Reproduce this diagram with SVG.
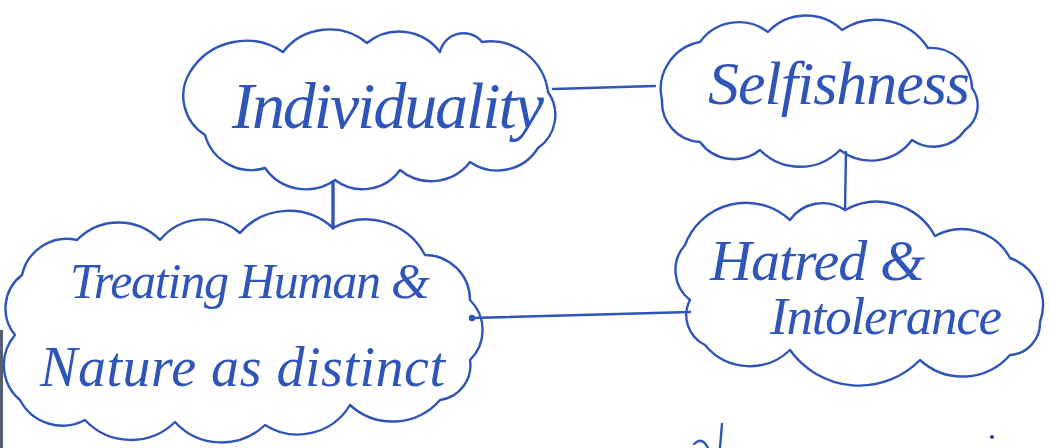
<svg xmlns="http://www.w3.org/2000/svg" width="1050" height="448" viewBox="0 0 1050 448">
  <style>
    .cloud { fill: none; stroke: #2f55b8; stroke-width: 2.4; stroke-linejoin: round; stroke-linecap: round; }
    .link { fill: none; stroke: #2f55b8; stroke-width: 2.4; stroke-linecap: round; }
    .label { fill: #2f55b8; font-family: "Liberation Serif", "DejaVu Serif", serif; font-style: italic; }
  </style>
  <rect width="1050" height="448" fill="#ffffff"/>
  <rect x="0" y="330" width="3" height="118" fill="#55606e"/>

  <g id="connectors">
    <path class="link" d="M553,89 L655,86"/>
    <path class="link" d="M846,152 L845,210"/>
    <path class="link" d="M333,182 L333,228" style="stroke-width:3.4"/>
    <path class="link" d="M472,318 L690,312"/>
    <circle cx="472" cy="318" r="3.2" fill="#2f55b8"/>
  </g>

  <g id="individuality">
    <path class="cloud" d="M190,72 A66,66 0 0 1 283,52 A59,59 0 0 1 367,43 A51,51 0 0 1 440,52 A24,24 0 0 1 482,42 A58,58 0 0 1 548,92 A40,40 0 0 1 538,148 A48,48 0 0 1 470,162 A49,49 0 0 1 400,170 A46,46 0 0 1 335,180 A50,50 0 0 1 265,168 A48,48 0 0 1 205,135 A46,46 0 0 1 190,72 Z"/>
    <text class="label" x="232" y="128" font-size="66" textLength="312">Individuality</text>
  </g>

  <g id="selfishness">
    <path class="cloud" d="M662,100 A48,48 0 0 1 700,42 A48,48 0 0 1 768,32 A52,52 0 0 1 842,30 A62,62 0 0 1 928,48 A41,41 0 0 1 972,88 A30,30 0 0 1 965,130 A38,38 0 0 1 912,140 A51,51 0 0 1 840,150 A56,56 0 0 1 760,150 A42,42 0 0 1 700,142 A40,40 0 0 1 662,100 Z"/>
    <text class="label" x="708" y="104" font-size="62" textLength="262">Selfishness</text>
  </g>

  <g id="treating">
    <path class="cloud" d="M22,275 A46,46 0 0 1 77,240 A58,58 0 0 1 160,240 A56,56 0 0 1 240,233 A65,65 0 0 1 333,228 A67,67 0 0 1 425,255 A45,45 0 0 1 470,300 A42,42 0 0 1 470,360 A35,35 0 0 1 440,400 A63,63 0 0 1 350,405 A61,61 0 0 1 265,425 A63,63 0 0 1 175,422 A63,63 0 0 1 85,420 A48,48 0 0 1 20,400 A46,46 0 0 1 15,335 A42,42 0 0 1 22,275 Z"/>
    <text class="label" x="70" y="298" font-size="50" textLength="360">Treating Human &amp;</text>
    <text class="label" x="40" y="386" font-size="56" textLength="405">Nature as distinct</text>
  </g>

  <g id="hatred">
    <path class="cloud" d="M685,245 A65,65 0 0 1 790,220 A40,40 0 0 1 845,210 A66,66 0 0 1 935,236 A55,55 0 0 1 1010,258 A50,50 0 0 1 1040,322 A32,32 0 0 1 1010,355 A63,63 0 0 1 920,360 A85,85 0 0 1 790,350 A58,58 0 0 1 705,345 A33,33 0 0 1 690,300 A38,38 0 0 1 685,245 Z"/>
    <text class="label" x="710" y="280" font-size="58" textLength="215">Hatred &amp;</text>
    <text class="label" x="770" y="334" font-size="53" textLength="232">Intolerance</text>
  </g>

  <!-- loose pen marks along the lower edge -->
  <path class="link" d="M708,448 Q702,436 694,444"/>
  <path class="link" d="M722,424 L720,448"/>
  <circle cx="992" cy="437" r="2" fill="#2a3f8a"/>
</svg>
